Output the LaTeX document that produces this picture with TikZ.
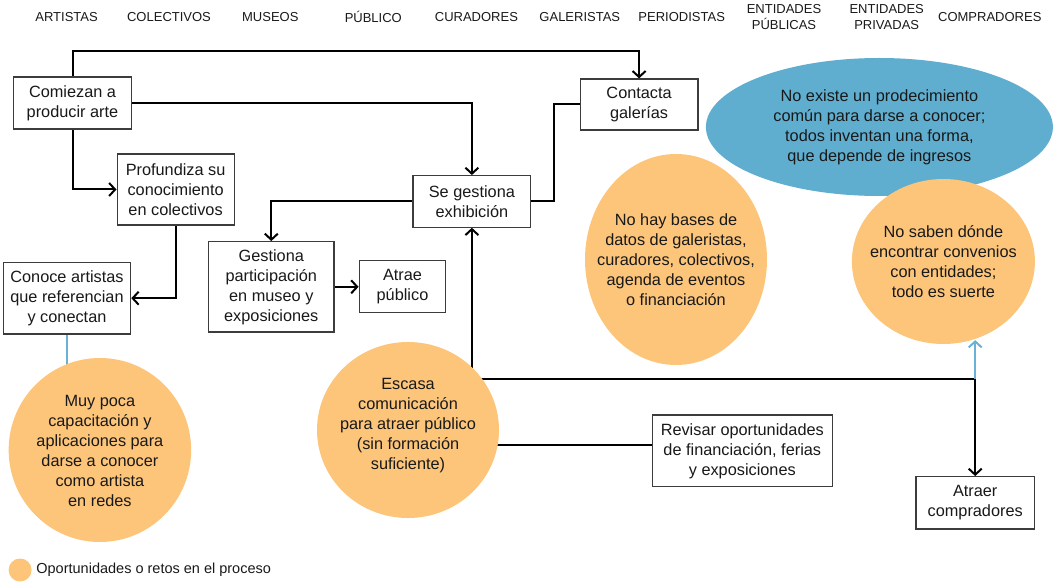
\documentclass[tikz,border=0pt]{standalone}
\usepackage{fontspec}
\setmainfont{Liberation Sans}
\usetikzlibrary{arrows.meta,shapes.geometric,backgrounds,calc}
\definecolor{orng}{RGB}{252,197,122}
\definecolor{blu}{RGB}{95,174,208}
\definecolor{bluln}{RGB}{105,178,214}
\definecolor{txt}{RGB}{25,25,25}
\definecolor{bord}{RGB}{60,60,60}
\begin{document}
\begin{tikzpicture}[x=1pt,y=-1pt,
  every node/.style={text=txt},
  body/.style={font=\fontsize{16.3}{20}\selectfont},
  hdr/.style={font=\fontsize{13}{16}\selectfont, align=center, inner sep=0pt},
  box/.style={draw=bord, line width=1.2pt, fill=white, align=center, inner sep=0pt, body},
  bubble/.style={fill=orng, ellipse, inner sep=0pt},
  conn/.style={line width=2pt, draw=black},
  arr/.style={conn, -{Straight Barb[length=6pt,width=13pt]}},
  blueconn/.style={line width=2pt, draw=bluln},
  bluearr/.style={blueconn, -{Straight Barb[length=6pt,width=13pt]}},
  lbl/.style={body, align=center, inner sep=0pt}
]
\useasboundingbox (0,0) rectangle (1063,585);

% headers
\node[hdr] (hA) at (66.6,17) {ARTISTAS};
\node[hdr] (hB) at (169,17) {COLECTIVOS};
\node[hdr] (hC) at (270.3,17) {MUSEOS};
\node[hdr] (hD) at (373.3,17) {PÚBLICO};
\node[hdr] (hE) at (476.4,17) {CURADORES};
\node[hdr] (hF) at (579.8,17) {GALERISTAS};
\node[hdr] (hG) at (681.7,17) {PERIODISTAS};
\node[hdr] (hH) at (784,17) {ENTIDADES\\PÚBLICAS};
\node[hdr] (hI) at (886.7,17) {ENTIDADES\\PRIVADAS};
\node[hdr] (hJ) at (989.8,17) {COMPRADORES};

% bubbles
\node[fill=blu, ellipse, inner sep=0pt, minimum width=347, minimum height=138,
  label={[lbl]center:{No existe un prodecimiento\\común para darse a conocer;\\todos inventan una forma,\\que depende de ingresos}}] (blue) at (879.4,127) {};
\node[bubble, minimum width=182, minimum height=211,
  label={[lbl]center:{No hay bases de\\datos de galeristas,\\curadores, colectivos,\\agenda de eventos\\o financiación}}] (nohay) at (676,259.5) {};
\node[bubble, minimum width=183, minimum height=165,
  label={[lbl]center:{No saben dónde\\encontrar convenios\\con entidades;\\todo es suerte}}] (saben) at (943.4,261.5) {};
\node[bubble, minimum width=182.5, minimum height=184,
  label={[lbl,yshift=-1pt]center:{Muy poca\\capacitación y\\aplicaciones para\\darse a conocer\\como artista\\en redes}}] (muy) at (99.9,450) {};
\node[bubble, minimum width=182, minimum height=176,
  label={[lbl,yshift=4pt]center:{Escasa\\comunicación\\para atraer público\\(sin formación\\suficiente)}}] (escasa) at (408,430) {};

% boxes
\node[box, minimum width=117.4, minimum height=52] (comiezan) at (72.5,103) {Comiezan a\\producir arte};
\node[box, minimum width=117.6, minimum height=51] (contacta) at (639.1,104.5) {Contacta\\galerías};
\node[box, minimum width=117, minimum height=71] (profund) at (175.6,189.5) {Profundiza su\\conocimiento\\en colectivos};
\node[box, minimum width=117.7, minimum height=51.5] (segest) at (471.9,201.4) {Se gestiona\\exhibición};
\node[box, minimum width=125.3, minimum height=90.3] (gestiona) at (271.3,286.8) {Gestiona\\participación\\en museo y\\exposiciones};
\node[box, minimum width=86.7, minimum height=51.6] (atrae) at (402.5,286.5) {Atrae\\público};
\node[box, minimum width=127.4, minimum height=71.7] (conoce) at (67,298.2) {Conoce artistas\\que referencian\\y conectan};
\node[box, minimum width=179.8, minimum height=71.7] (revisar) at (742.3,450.8) {Revisar oportunidades\\de financiación, ferias\\y exposiciones};
\node[box, minimum width=118.3, minimum height=52.3] (compr) at (975.2,502.8) {Atraer\\compradores};

% legend
\node[fill=orng, circle, inner sep=0pt, minimum size=23] (leg) at (20.1,570) {};
\node[anchor=west, inner sep=0pt, font=\fontsize{14.5}{17}\selectfont] (legt) at (36.2,570) {Oportunidades o retos en el proceso};

\coordinate (J) at (471.9,379.3);

\begin{scope}[on background layer]
  \draw[arr] (comiezan.north) -- ++(0,-25.5) -| (contacta.north);
  \draw[arr] (comiezan.east) -| (segest.north);
  \draw[arr] (comiezan.south) |- (profund.west);
  \draw[arr] (profund.south) |- (conoce.east);
  \draw[arr] (segest.west) -| (gestiona.north);
  \draw[arr] (gestiona.east) -- (gestiona.east -| atrae.west);
  \draw[conn] (segest.east) -- ++(22.6,0) |- (contacta.west);
  \draw[arr] (J) -- (segest.south);
  \draw[arr] (J) -| (compr.north);
  \draw[conn] ([yshift=6pt]revisar.west -| escasa.center) -- ([yshift=6pt]revisar.west);
  \draw[blueconn] (conoce.south) -- (conoce.south |- muy.center);
  \draw[bluearr] (J -| compr.north) -- (compr.north |- saben.-70);
\end{scope}
\end{tikzpicture}
\end{document}
